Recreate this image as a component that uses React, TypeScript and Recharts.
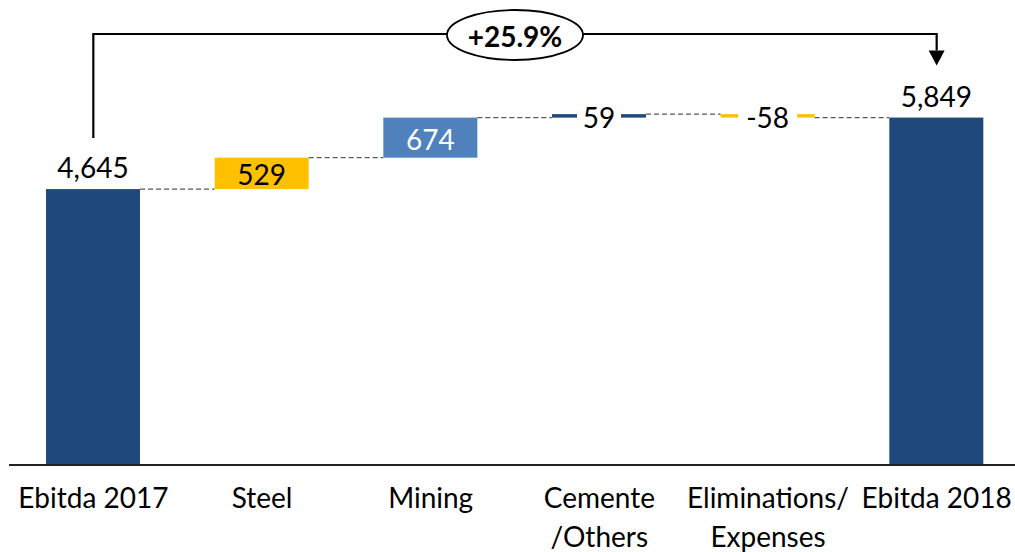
import React from "react";
import { Bar, BarChart, XAxis, YAxis } from "recharts";

// Ebitda bridge 2017 -> 2018 (waterfall)
const categories = [
  "Ebitda 2017",
  "Steel",
  "Mining",
  "Cemente\n/Others",
  "Eliminations/\nExpenses",
  "Ebitda 2018",
];
const values = [4645, 529, 674, 59, -58, 5849];
const isTotal = [true, false, false, false, false, true];
const growthLabel = "+25.9%";

const DARK = "#1F497D";
const GOLD = "#FFC000";
const MID = "#4F81BD";
const barColors = [DARK, GOLD, MID, DARK, GOLD, DARK];
const labelColors = ["#000", "#000", "#fff", "#000", "#000", "#000"];

const FONT = "Lato, 'Open Sans', sans-serif";

// layout
const CHART_W = 1021;
const CHART_H = 552;
const M_LEFT = 9;
const M_TOP = 10;
const PLOT_BOTTOM = 465;
const PLOT_W = CHART_W - M_LEFT;
const PLOT_H = PLOT_BOTTOM - M_TOP;
const BAND = PLOT_W / categories.length;
const BAR_W = 94;
const Y_MAX = 7660;

const xc = (i: number) => M_LEFT + BAND * (i + 0.5);
const yv = (v: number) => M_TOP + PLOT_H * (1 - v / Y_MAX);

let running = 0;
const rows = categories.map((name, i) => {
  const v = values[i];
  let base = 0;
  let amount = v;
  if (isTotal[i]) {
    running = v;
  } else {
    const start = running;
    const end = running + v;
    base = Math.min(start, end);
    amount = Math.abs(v);
    running = end;
  }
  return { name, base, amount, value: v, idx: i };
});

const fmt = (v: number) => v.toLocaleString("en-US");

function WaterfallShape(props: any) {
  const { x, y, width, height, payload } = props;
  const i = payload.idx;
  const cx = x + width / 2;
  const endY = payload.value < 0 ? y + height : y;
  const label = fmt(payload.value);
  let labelNode: React.ReactNode;
  if (isTotal[i]) {
    labelNode = (
      <text x={cx} y={y - 11} textAnchor="middle" fontSize={28} fontFamily={FONT} fill="#000">
        {label}
      </text>
    );
  } else if (height < 30) {
    const w = label.length * 15 + 14;
    const my = y + height / 2 + 1;
    labelNode = (
      <g>
        <rect x={cx - w / 2} y={my - 15} width={w} height={30} fill="#fff" />
        <text x={cx} y={my} dominantBaseline="central" textAnchor="middle" fontSize={28} fontFamily={FONT} fill={labelColors[i]}>
          {label}
        </text>
      </g>
    );
  } else {
    labelNode = (
      <text x={cx} y={y + height / 2 + 1} dominantBaseline="central" textAnchor="middle" fontSize={28} fontFamily={FONT} fill={labelColors[i]}>
        {label}
      </text>
    );
  }
  return (
    <g>
      <rect x={x} y={y} width={width} height={Math.max(height, 0)} fill={barColors[i]} />
      {i < categories.length - 1 && (
        <line
          x1={x + width}
          x2={x + BAND}
          y1={endY}
          y2={endY}
          stroke="#5a5a5a"
          strokeWidth={1.2}
          strokeDasharray="5 3"
        />
      )}
      {labelNode}
    </g>
  );
}

function CategoryTick(props: any) {
  const { x, payload } = props;
  const lines = String(payload.value).split("\n");
  return (
    <text x={x} y={PLOT_BOTTOM} textAnchor="middle" fontSize={28} fontFamily={FONT} fill="#000">
      {lines.map((l, k) => (
        <tspan key={k} x={x} dy={k === 0 ? 43 : 39}>
          {l}
        </tspan>
      ))}
    </text>
  );
}

function GrowthBracket() {
  const x0 = xc(0);
  const x1 = xc(categories.length - 1);
  const top = 34;
  const startY = yv(values[0]) - 51;
  const tipY = yv(values[values.length - 1]) - 52;
  const mid = (x0 + x1) / 2;
  return (
    <svg
      width={CHART_W}
      height={CHART_H}
      style={{ position: "absolute", left: 0, top: 0, pointerEvents: "none" }}
    >
      <polyline
        points={`${x0},${startY} ${x0},${top} ${x1},${top} ${x1},${tipY - 15}`}
        fill="none"
        stroke="#000"
        strokeWidth={2.2}
      />
      <polygon points={`${x1 - 8},${tipY - 15} ${x1 + 8},${tipY - 15} ${x1},${tipY}`} fill="#000" />
      <ellipse cx={mid} cy={top + 1} rx={68} ry={25} fill="#fff" stroke="#000" strokeWidth={1.8} />
      <text
        x={mid}
        y={top + 2}
        dominantBaseline="central"
        textAnchor="middle"
        fontSize={28}
        fontWeight={700}
        fontFamily={FONT}
        fill="#000"
      >
        {growthLabel}
      </text>
    </svg>
  );
}

export default function App() {
  return (
    <div style={{ width: 1015, height: 552, overflow: "hidden", position: "relative", background: "#fff" }}>
      <style>{"body{margin:0}"}</style>
      <BarChart
        width={CHART_W}
        height={CHART_H}
        data={rows}
        margin={{ top: M_TOP, right: 0, left: M_LEFT, bottom: 0 }}
      >
        <XAxis
          dataKey="name"
          interval={0}
          tickLine={false}
          axisLine={{ stroke: "#222", strokeWidth: 2 }}
          height={CHART_H - PLOT_BOTTOM}
          tick={<CategoryTick />}
        />
        <YAxis hide domain={[0, Y_MAX]} allowDataOverflow />
        <Bar dataKey="base" stackId="w" fill="transparent" barSize={BAR_W} isAnimationActive={false} />
        <Bar
          dataKey="amount"
          stackId="w"
          barSize={BAR_W}
          shape={<WaterfallShape />}
          isAnimationActive={false}
        />
      </BarChart>
      <GrowthBracket />
    </div>
  );
}
